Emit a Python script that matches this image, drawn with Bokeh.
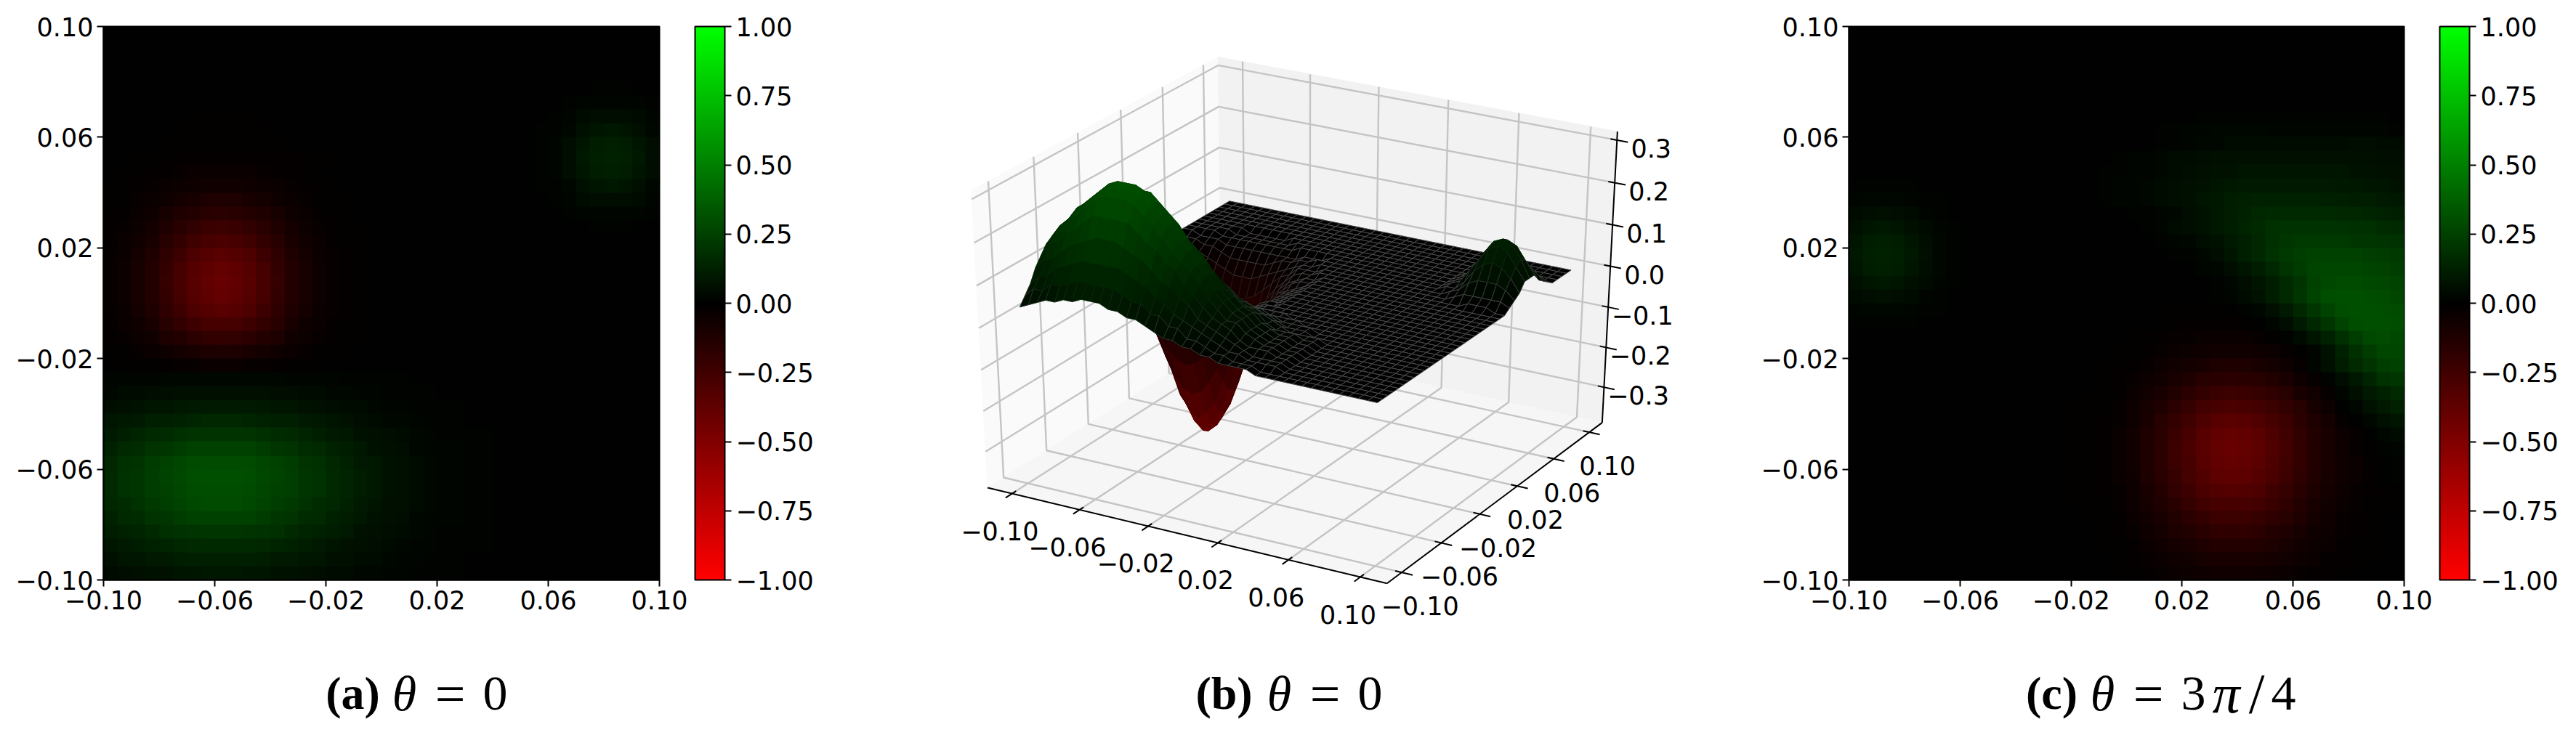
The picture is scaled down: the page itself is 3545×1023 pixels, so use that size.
import numpy as np
from bokeh.core.properties import value
from bokeh.embed import file_html
from bokeh.layouts import column, row
from bokeh.models import ColorBar, ColumnDataSource, FixedTicker, LinearColorMapper, Range1d
from bokeh.plotting import figure
from bokeh.resources import INLINE
from bokeh.transform import transform

TICKS = [-0.10, -0.06, -0.02, 0.02, 0.06, 0.10]
TICK_LABELS = ["\u22120.10", "\u22120.06", "\u22120.02", "0.02", "0.06", "0.10"]
CB_TICKS = [-1.0, -0.75, -0.5, -0.25, 0.0, 0.25, 0.5, 0.75, 1.0]
CB_LABELS = ["\u22121.00", "\u22120.75", "\u22120.50", "\u22120.25", "0.00", "0.25", "0.50", "0.75", "1.00"]
Z_TICKS = [-0.3, -0.2, -0.1, 0.0, 0.1, 0.2, 0.3]
Z_LABELS = ["\u22120.3", "\u22120.2", "\u22120.1", "0.0", "0.1", "0.2", "0.3"]

# (row from the top, first column, values x 100) on a 40 x 40 grid; other cells are 0
FIELD_A = [
 (4,35,[1,1,1]),
 (5,33,[1,2,2,2,2,2,1]),
 (6,6,[-1,-1,-1,-1,-1]),(6,32,[1,2,4,5,5,5,4,2]),
 (7,5,[-1,-1,-1,-1,-1,-1,-1]),(7,31,[1,1,3,6,8,9,8,6,3]),
 (8,4,[-1,-1,-1,-1,-1,-1,-1,-1,-1]),(8,31,[1,2,5,8,11,12,11,8,5]),
 (9,2,[-1,-1,-1,-2,-2,-2,-2,-2,-2,-2,-2,-2,-1,-1,-1]),(9,31,[1,2,5,9,12,13,12,9,5]),
 (10,1,[-1,-1,-2,-2,-3,-4,-4,-4,-4,-4,-3,-2,-2,-1,-1]),(10,31,[1,2,5,8,11,12,11,8,5]),
 (11,0,[-1,-1,-2,-3,-4,-5,-6,-7,-7,-7,-6,-5,-4,-3,-2,-1,-1]),(11,31,[1,1,3,6,8,9,8,6,3]),
 (12,0,[-1,-1,-3,-4,-6,-8,-10,-11,-12,-11,-10,-8,-6,-4,-3,-1,-1,-1]),(12,32,[1,2,4,5,5,5,4,2]),
 (13,0,[-1,-2,-4,-6,-9,-12,-14,-16,-17,-16,-14,-12,-9,-6,-4,-2,-1,-1]),(13,33,[1,2,2,2,2,2,1]),
 (14,0,[-2,-3,-5,-8,-12,-16,-19,-22,-23,-22,-19,-16,-12,-8,-5,-3,-2,-1,-1]),(14,35,[1,1,1]),
 (15,0,[-2,-4,-7,-10,-15,-20,-25,-28,-29,-28,-25,-20,-15,-10,-7,-4,-2,-1,-1]),
 (16,0,[-3,-4,-8,-12,-18,-24,-30,-33,-35,-33,-30,-24,-18,-12,-8,-4,-3,-2,-1]),
 (17,0,[-3,-5,-9,-14,-20,-27,-33,-37,-39,-37,-33,-27,-20,-14,-9,-5,-3,-2,-1]),
 (18,0,[-3,-5,-9,-14,-21,-28,-34,-38,-40,-38,-34,-28,-21,-14,-9,-5,-3,-2,-1]),
 (19,0,[-3,-5,-9,-14,-20,-27,-33,-37,-39,-37,-33,-27,-20,-14,-9,-5,-3,-2,-1]),
 (20,0,[-3,-4,-8,-12,-18,-24,-30,-33,-35,-33,-30,-24,-18,-12,-8,-4,-3,-2,-1]),
 (21,0,[-2,-4,-6,-10,-15,-20,-24,-27,-28,-27,-24,-20,-15,-10,-6,-4,-2,-1,-1]),
 (22,0,[-2,-3,-5,-7,-11,-14,-17,-19,-20,-19,-17,-14,-11,-7,-5,-3,-2,-1,-1]),
 (23,0,[-1,-1,-3,-4,-6,-8,-10,-11,-11,-11,-10,-8,-6,-4,-3,-1,-1,-1]),
 (24,1,[-1,-1,-1,-2,-3,-3,-4,-4,-4,-3,-3,-2,-1,-1,-1]),
 (25,0,[2,2,2,2,3,3,3,3,3,3,3,3,3,2,2,2,2,1,1,1,1,1]),
 (26,0,[3,4,4,5,5,6,6,6,6,6,6,6,5,5,4,4,3,3,2,2,1,1,1,1]),
 (27,0,[5,6,7,8,8,9,10,10,10,10,10,9,8,8,7,6,5,4,4,3,2,2,1,1,1,1]),
 (28,0,[8,9,10,12,12,13,14,15,15,15,14,13,12,12,10,9,8,7,5,4,3,3,2,1,1,1]),
 (29,0,[10,12,14,16,17,18,20,20,20,20,20,18,17,16,14,12,10,9,7,6,5,4,3,2,1,1,1,1]),
 (30,0,[13,16,17,20,21,23,25,25,25,25,25,23,21,20,17,16,13,11,9,7,6,5,3,2,2,2,1,1]),
 (31,0,[15,18,20,23,25,27,29,29,29,29,29,27,25,23,20,18,15,13,10,9,7,6,4,3,2,2,1,1]),
 (32,0,[16,19,21,24,26,28,30,31,31,31,30,28,26,24,21,19,16,14,11,9,7,6,4,3,2,2,1,1]),
 (33,0,[16,19,21,24,25,27,29,30,30,30,29,27,25,24,21,19,16,14,11,9,7,6,4,3,2,2,1,1]),
 (34,0,[15,17,19,22,24,26,28,29,29,29,28,26,24,22,19,17,15,13,10,8,6,6,4,3,2,2,1,1]),
 (35,0,[13,16,17,20,21,23,25,25,25,25,25,23,21,20,17,16,13,11,9,7,6,5,3,2,2,2,1,1]),
 (36,0,[11,13,14,16,18,19,20,21,21,21,20,19,18,16,14,13,11,10,7,6,5,4,3,2,1,1,1,1]),
 (37,0,[8,10,11,13,14,15,16,16,16,16,16,15,14,13,11,10,8,7,6,5,4,3,2,2,1,1,1,1]),
 (38,0,[6,8,8,10,10,11,12,12,12,12,12,11,10,10,8,8,6,6,4,4,3,2,2,1,1,1]),
 (39,0,[4,5,6,7,7,8,8,9,9,9,8,8,7,7,6,5,4,4,3,3,2,2,1,1,1,1]),
]
FIELD_C = [
 (6,25,[1,1,1,1,1,1,1,1,1,1,1,1,1,1]),
 (7,22,[1,1,2,2,3,3,3,3,2,2,2,2,2,2,2,2,2,1]),
 (8,22,[1,1,2,3,3,4,4,4,4,4,4,4,4,4,5,5,4,4]),
 (9,19,[1,2,2,3,4,4,5,6,6,6,6,6,6,6,6,6,6,6,6,5,5]),
 (10,18,[1,1,2,2,3,4,5,6,7,7,8,8,8,8,8,8,8,8,7,7,6,6]),
 (11,0,[1,1,1,1,1]),(11,18,[1,2,2,3,4,5,6,7,8,9,10,10,10,10,10,10,10,9,9,8,8,7]),
 (12,0,[2,3,3,3,2,1,1]),(12,18,[1,2,2,3,4,5,6,8,9,11,12,13,13,13,13,13,12,12,11,11,10,9]),
 (13,0,[4,5,6,5,4,2,1]),(13,20,[1,1,2,3,5,7,9,11,13,15,16,16,16,16,16,15,15,14,13,12]),
 (14,0,[6,8,9,8,6,4,2,1]),(14,21,[1,2,4,5,7,9,11,14,16,18,19,19,19,19,19,18,18,17,16]),
 (15,0,[8,11,12,11,8,5,3,1]),(15,22,[1,2,3,5,7,9,12,15,18,21,22,22,22,22,21,21,20,19]),
 (16,0,[9,12,13,12,9,6,3,1]),(16,23,[1,1,3,5,8,12,15,19,22,24,25,25,25,25,24,23,22]),
 (17,0,[8,11,12,11,8,5,3,1]),(17,25,[2,3,5,8,11,15,20,23,26,27,27,27,26,25,24]),
 (18,0,[6,8,9,8,6,4,2,1]),(18,26,[1,3,5,8,11,16,20,25,28,29,29,28,27,26]),
 (19,0,[4,5,6,5,4,2,1]),(19,26,[1,2,4,7,11,16,21,26,30,31,31,30,29,27]),
 (20,0,[2,3,3,3,2,1,1]),(20,23,[-1,-1,-1,-1,0,1,3,6,10,15,21,26,30,31,31,30,29]),
 (21,0,[1,1,1,1,1]),(21,23,[-1,-2,-2,-2,-2,-1,0,2,5,10,15,21,26,30,31,31,30]),
 (22,20,[-1,-1,-2,-3,-3,-4,-4,-4,-4,-3,-1,1,4,8,13,18,24,28,29,28]),
 (23,19,[-1,-1,-2,-3,-4,-5,-6,-7,-7,-7,-6,-5,-3,-1,2,7,13,18,23,27,27]),
 (24,18,[-1,-1,-2,-3,-5,-7,-8,-10,-11,-12,-11,-10,-8,-6,-3,2,6,11,16,20,24,25]),
 (25,18,[-1,-2,-3,-5,-7,-10,-12,-15,-16,-17,-16,-15,-13,-10,-6,-3,1,5,9,14,19,21]),
 (26,17,[-1,-1,-2,-4,-7,-10,-13,-17,-20,-22,-23,-22,-21,-18,-15,-10,-7,-3,2,6,10,13,16]),
 (27,16,[-1,-1,-1,-3,-5,-9,-12,-17,-21,-26,-28,-29,-28,-26,-23,-19,-15,-9,-5,0,3,7,10,13]),
 (28,16,[-1,-1,-2,-3,-6,-10,-15,-20,-25,-30,-34,-35,-34,-31,-27,-23,-17,-12,-8,-3,0,3,6,8]),
 (29,16,[-1,-1,-2,-4,-7,-12,-16,-22,-28,-34,-38,-39,-38,-35,-30,-25,-19,-14,-10,-5,-3,0,3,4]),
 (30,16,[-1,-1,-2,-4,-7,-12,-17,-23,-29,-35,-39,-40,-39,-36,-31,-26,-20,-14,-10,-6,-3,-1,1,2]),
 (31,16,[-1,-1,-2,-4,-7,-12,-17,-23,-28,-34,-38,-39,-38,-35,-30,-25,-20,-14,-10,-6,-4,-1,0,1]),
 (32,16,[-1,-1,-2,-4,-6,-11,-16,-21,-27,-32,-36,-37,-36,-33,-29,-24,-18,-13,-9,-6,-4,-2,0,1]),
 (33,16,[-1,-1,-2,-3,-6,-10,-14,-19,-24,-29,-32,-33,-32,-30,-25,-21,-16,-11,-8,-5,-3,-2,-1,-1]),
 (34,16,[-1,-1,-1,-3,-5,-9,-12,-16,-21,-25,-28,-28,-28,-26,-22,-18,-14,-10,-7,-4,-3,-1,-1,-1]),
 (35,17,[-1,-1,-2,-4,-7,-10,-13,-17,-20,-23,-23,-23,-21,-18,-15,-12,-8,-6,-3,-2,-1,-1]),
 (36,18,[-1,-2,-3,-6,-8,-11,-13,-16,-18,-18,-18,-17,-14,-12,-9,-6,-5,-3,-2,-1,-1]),
 (37,18,[-1,-1,-2,-4,-6,-8,-10,-12,-14,-14,-14,-13,-11,-9,-7,-5,-4,-2,-1,-1]),
 (38,19,[-1,-2,-3,-4,-6,-7,-9,-10,-10,-10,-9,-8,-7,-5,-4,-2,-2,-1,-1]),
 (39,19,[-1,-1,-2,-3,-4,-5,-6,-7,-7,-7,-6,-5,-4,-3,-2,-2,-1]),
]
CAPTIONS = [
 ("(a)", "bold", 485), ("\u03b8", "italic", 556), ("=", "normal", 619), ("0", "normal", 681),
 ("(b)", "bold", 1684), ("\u03b8", "italic", 1760), ("=", "normal", 1823), ("0", "normal", 1885),
 ("(c)", "bold", 2823), ("\u03b8", "italic", 2893), ("=", "normal", 2956), ("3", "normal", 3018),
 ("\u03c0", "italic", 3063), ("/", "normal", 3105), ("4", "normal", 3142),
]
CAP_SIZES = {"=": "74px", "/": "78px", "\u03c0": "76px"}

FONT = "DejaVu Sans"
FONT_PX = "35px"
SERIF = "Liberation Serif"
CAP_BOLD_PX = "64px"
CAP_PX = "68px"
CAP_BASE = 982 - 28   # caption anchor in the strip's pixel scale

def build(segments):
    g = np.zeros((40, 40))
    for r, c, vals in segments:
        g[r, c:c + len(vals)] = np.array(vals) / 100.0
    return g

def channel(i):
    return "#%02x%02x%02x" % ((int(round(255 * (127.5 - i) / 127.5)), 0, 0) if i < 128
                               else (0, int(round(255 * (i - 127.5) / 127.5)), 0))

mapper = LinearColorMapper(palette=[channel(i) for i in range(256)], low=-1, high=1)
GRID_A, GRID_C = build(FIELD_A), build(FIELD_C)
HEIGHT = 900
STRIP = 120
TOTAL_W = 3540

def heat_panel(grid, width, left, fw, cb_gap, cb_w):
    right = width - left - fw
    p = figure(width=width, height=HEIGHT, output_backend="svg", frame_align=False,
               toolbar_location=None, x_range=Range1d(-0.1, 0.1), y_range=Range1d(-0.1, 0.1),
               min_border_left=left, min_border_right=right, min_border_top=36, min_border_bottom=HEIGHT - 798)
    p.image(image=[grid[::-1]], x=-0.1, y=-0.1, dw=0.2, dh=0.2, color_mapper=mapper)
    p.grid.visible = False
    p.outline_line_color = "black"
    p.outline_line_width = 2
    p.background_fill_color = "black"
    for ax in (p.xaxis[0], p.yaxis[0]):
        ax.ticker = FixedTicker(ticks=TICKS)
        ax.major_label_overrides = dict(zip(TICKS, TICK_LABELS))
        ax.major_label_text_font = FONT
        ax.major_label_text_font_size = FONT_PX
        ax.major_label_text_color = "black"
        ax.major_label_standoff = 5
        ax.major_tick_in = 0
        ax.major_tick_out = 9
        ax.major_tick_line_width = 2
        ax.major_tick_line_color = "black"
        ax.minor_tick_line_color = None
        ax.axis_line_color = "black"
        ax.axis_line_width = 2
    cb = ColorBar(color_mapper=mapper, ticker=FixedTicker(ticks=CB_TICKS),
                  major_label_overrides=dict(zip(CB_TICKS, CB_LABELS)),
                  width=cb_w, height=762, padding=0, margin=0, location=(cb_gap, 0), label_standoff=6,
                  major_tick_in=0, major_tick_out=9, major_tick_line_color="black", major_tick_line_width=2,
                  minor_tick_line_color=None, bar_line_color="black", bar_line_width=2,
                  border_line_color=None, background_fill_color=None,
                  major_label_text_font=FONT, major_label_text_font_size=FONT_PX, major_label_text_color="black")
    p.add_layout(cb, "right")
    return p

fig_a = heat_panel(GRID_A, 1130, 142, 765, 49, 41)
fig_c = heat_panel(GRID_C, 1140, 144, 764, 49, 41)

# ---- panel b: the field of panel a as a surface in a matplotlib style 3D box
XLIM = (-0.1147, 0.1147)
YLIM = (-0.1147, 0.1147)
ZLIM = (-0.39, 0.32)
DIST = 10.0
N = (0.4330127, -0.75, 0.5)
U = (0.8660254, 0.5, 0.0)
V = (-0.25, 0.4330127, 0.8660254)
SX, OX, SY, OY = 6345.0, 1788.0, 4674.0, 428.0   # projected units to page pixels

def project(x, y, z):
    dx = (np.asarray(x) - XLIM[0]) / (XLIM[1] - XLIM[0]) - 0.5
    dy = (np.asarray(y) - YLIM[0]) / (YLIM[1] - YLIM[0]) - 0.5
    dz = (np.asarray(z) - ZLIM[0]) / (ZLIM[1] - ZLIM[0]) - 0.5
    den = DIST - (N[0] * dx + N[1] * dy + N[2] * dz)
    return (U[0] * dx + U[1] * dy) / den, (V[0] * dx + V[1] * dy + V[2] * dz) / den, den

L, R, B, T = 1130, 2400, HEIGHT, 0
fig_b = figure(width=R - L, height=HEIGHT, output_backend="svg", toolbar_location=None, frame_align=False,
               x_range=Range1d((L - OX) / SX, (R - OX) / SX), y_range=Range1d((OY - B) / SY, (OY - T) / SY),
               x_axis_type=None, y_axis_type=None, min_border=0)
fig_b.grid.visible = False
fig_b.outline_line_color = None
x0, x1 = XLIM
y0, y1 = YLIM
z0, z1 = ZLIM

def pane(xs, ys, zs, color):
    px, py, _ = project(xs, ys, zs)
    fig_b.patch(list(px), list(py), fill_color=color, line_color=color, line_width=1)

pane([x0, x0, x0, x0], [y0, y1, y1, y0], [z0, z0, z1, z1], "#fafafa")
pane([x0, x1, x1, x0], [y1, y1, y1, y1], [z0, z0, z1, z1], "#f2f2f2")
pane([x0, x1, x1, x0], [y0, y0, y1, y1], [z0, z0, z0, z0], "#f6f6f6")

def poly(xs, ys, zs, color, w):
    px, py, _ = project(xs, ys, zs)
    fig_b.line(list(px), list(py), line_color=color, line_width=w)

GRID_COL, GRID_W = "#c4c4c4", 2.4
for t in TICKS:
    poly([t, t, t], [y0, y1, y1], [z0, z0, z1], GRID_COL, GRID_W)
    poly([x1, x0, x0], [t, t, t], [z0, z0, z1], GRID_COL, GRID_W)
for t in Z_TICKS:
    poly([x0, x0, x1], [y0, y1, y1], [t, t, t], GRID_COL, GRID_W)

poly([x0, x1], [y0, y0], [z0, z0], "black", 2)
poly([x1, x1], [y0, y1], [z0, z0], "black", 2)
poly([x1, x1], [y1, y1], [z0, z1], "black", 2)

def labels(px, py, texts, dx, dy):
    fig_b.text(x=list(px), y=list(py), text=texts, x_offset=dx, y_offset=dy, text_align="center",
               text_baseline="middle", text_font=value(FONT), text_font_size=value(FONT_PX), text_color="black")

tk = np.array(TICKS)
TL = 0.006
a, b, _ = project(tk, np.full(6, y0 + TL * 0.6), np.full(6, z0))
c, d, _ = project(tk, np.full(6, y0 - TL), np.full(6, z0))
fig_b.segment(a, b, c, d, line_color="black", line_width=2)
labels(project(tk, np.full(6, y0), np.full(6, z0))[0], project(tk, np.full(6, y0), np.full(6, z0))[1],
       TICK_LABELS, -17, 51)
a, b, _ = project(np.full(6, x1 - TL * 0.6), tk, np.full(6, z0))
c, d, _ = project(np.full(6, x1 + TL), tk, np.full(6, z0))
fig_b.segment(a, b, c, d, line_color="black", line_width=2)
labels(project(np.full(6, x1), tk, np.full(6, z0))[0], project(np.full(6, x1), tk, np.full(6, z0))[1],
       TICK_LABELS, 25, 46)
zk = np.array(Z_TICKS)
a, b, _ = project(np.full(7, x1 - TL * 0.6), np.full(7, y1), zk)
c, d, _ = project(np.full(7, x1 + TL), np.full(7, y1), zk)
fig_b.segment(a, b, c, d, line_color="black", line_width=2)
labels(project(np.full(7, x1), np.full(7, y1), zk)[0], project(np.full(7, x1), np.full(7, y1), zk)[1],
       Z_LABELS, 47, 11)

# surface facets, far ones first
axis_vals = np.linspace(-0.1, 0.1, 40)
gx, gy = np.meshgrid(axis_vals, axis_vals[::-1])
sx, sy, sd = project(gx, gy, GRID_A)
facets = []
for i in range(39):
    for j in range(39):
        idx = [(i, j), (i, j + 1), (i + 1, j + 1), (i + 1, j)]
        zm = float(np.mean([GRID_A[q] for q in idx]))
        depth = float(np.mean([sd[q] for q in idx]))
        w = float(np.clip(1 - abs(zm) / 0.12, 0, 1)) * 0.6
        r = (max(-zm, 0) * 255) * (1 - w) + 125 * w
        g = (max(zm, 0) * 255) * (1 - w) + 125 * w
        bb = 125 * w
        facets.append((depth, [sx[q] for q in idx], [sy[q] for q in idx], zm, "#%02x%02x%02x" % (int(r), int(g), int(bb))))
facets.sort(key=lambda f: -f[0])
src = ColumnDataSource(dict(xs=[f[1] for f in facets], ys=[f[2] for f in facets],
                            z=[f[3] for f in facets], edge=[f[4] for f in facets]))
fig_b.patches("xs", "ys", source=src, fill_color=transform("z", mapper), line_color="edge", line_width=1)

# ---- caption strip below the three panels, its scales read in page pixels
strip = figure(width=TOTAL_W, height=STRIP, output_backend="svg", toolbar_location=None, frame_align=False,
               x_range=Range1d(0, TOTAL_W), y_range=Range1d(HEIGHT + STRIP, HEIGHT),
               x_axis_type=None, y_axis_type=None, min_border=0)
strip.grid.visible = False
strip.outline_line_color = None
for text, style, px in CAPTIONS:
    size = CAP_BOLD_PX if style == "bold" else CAP_SIZES.get(text, CAP_PX)
    strip.text(x=[px], y=[CAP_BASE], text=[text], text_font=value(SERIF), text_font_style=style,
               text_font_size=value(size), text_align="center", text_baseline="alphabetic", text_color="black")

page = column(row(fig_a, fig_b, fig_c, spacing=0), strip, spacing=0)
open("out.html", "w").write(file_html(page, INLINE))
